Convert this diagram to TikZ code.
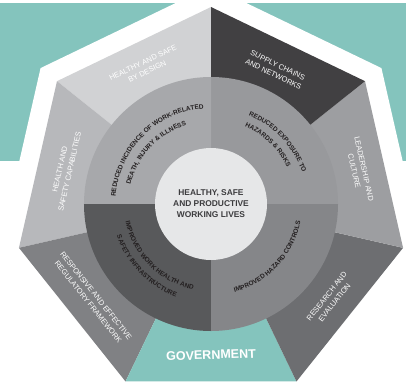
\documentclass[tikz,border=0pt]{standalone}
\usepackage{fontspec}
\setmainfont{Liberation Sans}
\usetikzlibrary{decorations.text}
\definecolor{govteal}{HTML}{84C4BD}
\definecolor{designgray}{HTML}{D1D2D4}
\definecolor{capgray}{HTML}{B7B8BB}
\definecolor{respgray}{HTML}{808184}
\definecolor{researchgray}{HTML}{6D6E71}
\definecolor{leadgray}{HTML}{9D9EA1}
\definecolor{supplydark}{HTML}{414042}
\definecolor{ringtl}{HTML}{A7A8AB}
\definecolor{ringtr}{HTML}{98999C}
\definecolor{ringbl}{HTML}{58595B}
\definecolor{ringbr}{HTML}{858689}
\definecolor{centregray}{HTML}{E6E7E8}
\definecolor{ringink}{HTML}{231F20}
\definecolor{centreink}{HTML}{3C3C3E}

\newcommand{\ringfont}{\bfseries\fontsize{6.5}{7}\selectfont}
\tikzset{
  outerlabel/.style = {text = white, align = center, inner sep = 0pt, font = \fontsize{7.5}{10}\selectfont},
  ringtext/.style = {decorate, decoration = {text along path, text align = center, text color = ringink}}
}

\begin{document}
\begin{tikzpicture}[x = 1pt, y = 1pt]
        % Frame and background
        \clip (-211, -184) rectangle (195, 204);
        \fill [white] (-211, -184) rectangle (195, 204);
        \fill [govteal] (-211, 43) rectangle (195, 201);
        \fill [white] (90:218) \foreach \k in {1, ..., 6} { -- (90 + \k*360/7:218) } -- cycle;
        % Outer segments, one for each side
        \foreach \k/\col in {0/designgray, 1/capgray, 2/respgray, 3/govteal, 4/researchgray, 5/leadgray, 6/supplydark}
          \fill [\col] (0, 0) -- (90 + \k*360/7:197) -- (90 + \k*360/7 + 360/7:197) -- cycle;
        % Ring quadrants
        \fill [ringtr] (0, 0) -- (0:127) arc [start angle = 0, end angle = 90, radius = 127] -- cycle;
        \fill [ringtl] (0, 0) -- (90:127) arc [start angle = 90, end angle = 180, radius = 127] -- cycle;
        \fill [ringbl] (0, 0) -- (180:127) arc [start angle = 180, end angle = 270, radius = 127] -- cycle;
        \fill [ringbr] (0, 0) -- (270:127) arc [start angle = 270, end angle = 360, radius = 127] -- cycle;
        % Centre
        \node [circle, fill = centregray, minimum size = 112pt, inner sep = 0pt, align = center, text = centreink,
               font = \bfseries\fontsize{8.4}{11}\selectfont] (core) at (0, 0) {HEALTHY, SAFE\\AND PRODUCTIVE\\WORKING LIVES};
        % Outer labels
        \node [outerlabel, rotate = 25.71] (design) at (115.71:152) {HEALTHY AND SAFE\\BY DESIGN};
        \node [outerlabel, rotate = 77.14] (capability) at (167.14:150) {HEALTH AND\\SAFETY CAPABILITIES};
        \node [outerlabel, rotate = -51.43] (regulation) at (218.57:152) {RESPONSIVE AND EFFECTIVE\\REGULATORY FRAMEWORK};
        \node [outerlabel, rotate = 2, font = \bfseries\fontsize{12.5}{14}\selectfont] (government) at (270:151) {GOVERNMENT};
        \node [outerlabel, rotate = 51.43] (research) at (321.43:153) {RESEARCH AND\\EVALUATION};
        \node [outerlabel, rotate = -77.14] (leadership) at (12.86:152) {LEADERSHIP AND\\CULTURE};
        \node [outerlabel, rotate = -25.71] (supply) at (64.29:149) {SUPPLY CHAINS\\AND NETWORKS};
        % Ring labels
        \path [ringtext, decoration = {text = {|\ringfont|REDUCED INCIDENCE OF WORK-RELATED}}]
          (195:95.7) arc [start angle = 195, end angle = 75, radius = 95.7];
        \path [ringtext, decoration = {text = {|\ringfont|DEATH, INJURY {\&} ILLNESS}}]
          (197:82.7) arc [start angle = 197, end angle = 77, radius = 82.7];
        \path [ringtext, decoration = {text = {|\ringfont|REDUCED EXPOSURE TO}}]
          (103:96.5) arc [start angle = 103, end angle = -17, radius = 96.5];
        \path [ringtext, decoration = {text = {|\ringfont|HAZARDS {\&} RISKS}}]
          (106:84.5) arc [start angle = 106, end angle = -14, radius = 84.5];
        \path [ringtext, decoration = {text = {|\ringfont|IMPROVED WORK HEALTH AND}}]
          (165:87.3) arc [start angle = 165, end angle = 285, radius = 87.3];
        \path [ringtext, decoration = {text = {|\ringfont|SAFETY INFRASTRUCTURE}}]
          (164:99.3) arc [start angle = 164, end angle = 284, radius = 99.3];
        \path [ringtext, decoration = {text = {|\ringfont|IMPROVED HAZARD CONTROLS}}]
          (257:91.3) arc [start angle = 257, end angle = 377, radius = 91.3];
\end{tikzpicture}
\end{document}
